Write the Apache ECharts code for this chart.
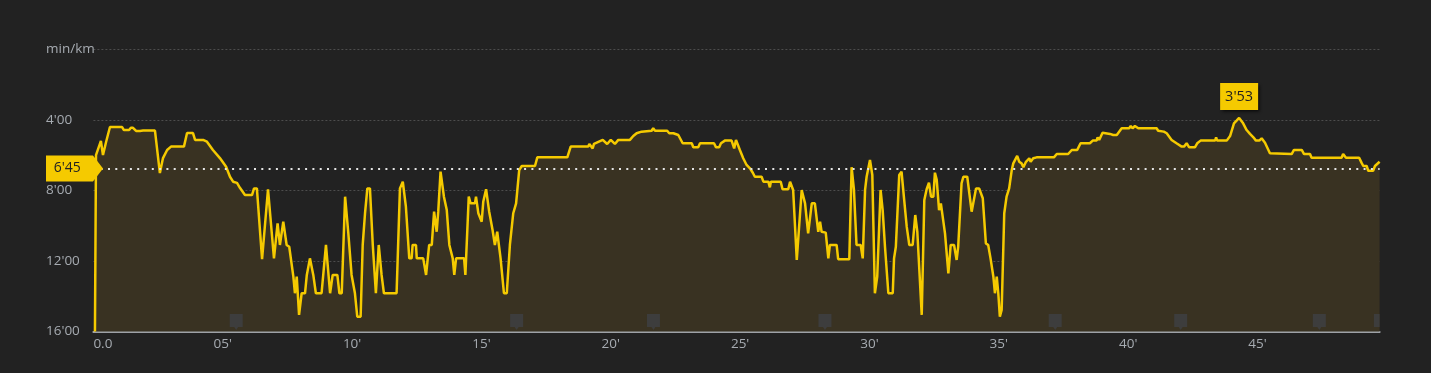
<!DOCTYPE html>
<html>
<head>
<meta charset="utf-8">
<script src="https://cdn.jsdelivr.net/npm/echarts@6/dist/echarts.min.js"></script>
<style>
html,body{margin:0;padding:0;background:#222222;}
#chart{width:1431px;height:373px;}
</style>
</head>
<body>
<div id="chart"></div>
<script>
// elapsed time (minutes)
const times = [0.06,0.10,0.22,0.29,0.37,0.49,0.64,1.11,1.18,1.38,1.45,1.53,1.65,1.80,1.92,2.38,2.57,2.69,2.85,3.00,
3.50,3.62,3.85,3.93,4.24,4.39,4.62,4.89,5.13,5.28,5.40,5.55,5.67,5.86,6.13,6.21,6.32,6.52,6.75,6.98,
7.12,7.21,7.34,7.47,7.57,7.73,7.79,7.86,7.95,8.05,8.18,8.25,8.37,8.50,8.60,8.82,8.99,9.15,9.25,9.43,
9.51,9.60,9.73,9.85,9.98,10.11,10.20,10.33,10.41,10.50,10.59,10.69,10.80,10.92,11.03,11.14,11.23,11.72,11.85,11.96,
12.08,12.21,12.30,12.34,12.47,12.50,12.75,12.86,12.98,13.08,13.17,13.27,13.33,13.42,13.55,13.66,13.76,13.89,13.95,14.02,
14.33,14.38,14.51,14.58,14.75,14.79,14.88,15.01,15.07,15.18,15.30,15.43,15.52,15.61,15.74,15.87,15.98,16.10,16.23,16.34,
16.46,16.56,17.07,17.16,18.32,18.45,19.13,19.17,19.30,19.35,19.69,19.86,20.00,20.16,20.29,20.74,20.87,21.00,21.19,21.58,
21.64,21.71,22.18,22.26,22.42,22.48,22.61,22.78,23.13,23.19,23.38,23.45,23.99,24.07,24.19,24.26,24.41,24.67,24.77,24.84,
24.99,25.12,25.25,25.38,25.49,25.57,25.83,25.90,26.09,26.15,26.19,26.57,26.64,26.86,26.93,26.99,27.05,27.19,27.25,27.38,
27.51,27.57,27.63,27.70,27.77,27.89,28.02,28.09,28.15,28.31,28.41,28.47,28.73,28.79,29.22,29.31,29.40,29.50,29.66,29.74,
29.83,29.89,29.95,30.02,30.11,30.21,30.30,30.43,30.51,30.60,30.73,30.90,30.95,31.02,31.15,31.24,31.33,31.44,31.54,31.67,
31.77,31.85,32.02,32.12,32.21,32.30,32.38,32.47,32.53,32.60,32.69,32.76,32.92,33.05,33.14,33.27,33.37,33.43,33.56,33.63,
33.78,33.95,34.12,34.24,34.38,34.50,34.59,34.68,34.79,34.85,34.92,34.98,35.04,35.11,35.21,35.30,35.40,35.50,35.56,35.71,
35.79,35.88,35.95,36.05,36.18,36.23,36.33,36.46,37.13,37.24,37.68,37.82,38.03,38.16,38.52,38.63,38.78,38.82,38.88,39.01,
39.30,39.36,39.42,39.56,39.75,40.04,40.10,40.17,40.26,40.39,41.10,41.16,41.38,41.49,41.68,41.87,42.07,42.16,42.26,42.36,
42.58,42.67,42.80,43.36,43.40,43.44,43.81,43.94,44.09,44.19,44.29,44.43,44.58,44.71,44.84,44.94,45.07,45.16,45.29,45.48,
46.32,46.41,46.71,46.80,47.03,47.09,48.25,48.31,48.42,48.93,49.02,49.09,49.22,49.28,49.47,49.54,49.72];

// pace (min/km)
const paces = [16,5.99,5.48,5.19,5.99,5.25,4.40,4.40,4.57,4.57,4.44,4.44,4.62,4.62,4.60,4.60,7.01,6.16,5.70,5.51,
5.51,4.74,4.74,5.13,5.13,5.23,5.70,6.16,6.65,7.22,7.50,7.57,7.86,8.26,8.26,7.88,7.88,11.89,7.93,11.85,
9.86,11.09,9.77,11.09,11.19,12.89,13.83,12.89,15.06,13.83,13.83,12.79,11.85,12.79,13.83,13.83,11.09,13.83,12.79,12.79,
13.83,13.83,8.35,10.34,12.79,13.83,15.16,15.16,11.09,9.29,7.88,7.88,11.09,13.83,11.09,12.79,13.83,13.83,7.88,7.50,
8.92,11.85,11.85,11.09,11.09,11.85,11.85,12.79,11.09,11.09,9.20,10.34,9.20,6.93,8.35,9.11,11.09,11.85,12.79,11.85,
11.85,12.79,8.35,8.73,8.73,8.35,9.29,9.77,8.64,7.93,9.20,10.24,11.09,10.34,11.85,13.83,13.83,11.09,9.29,8.73,
6.84,6.61,6.61,6.12,6.12,5.51,5.51,5.36,5.61,5.36,5.13,5.36,5.13,5.36,5.13,5.13,4.91,4.75,4.66,4.61,
4.47,4.61,4.61,4.75,4.75,4.85,4.85,5.32,5.32,5.55,5.55,5.32,5.32,5.55,5.55,5.32,5.17,5.17,5.61,5.13,
5.70,6.17,6.55,6.74,6.99,7.22,7.22,7.50,7.50,7.82,7.50,7.50,7.93,7.93,7.50,7.50,7.97,11.94,11.94,7.97,
8.73,8.82,10.43,10.43,8.73,8.73,10.34,9.77,10.34,10.39,11.85,11.09,11.09,11.90,11.90,6.68,7.97,11.09,11.09,11.85,
7.97,7.22,7.12,6.27,7.12,13.83,12.89,7.97,9.11,11.19,13.83,13.83,11.85,11.19,7.12,6.93,8.35,10.05,11.09,11.09,
9.39,10.34,15.06,8.54,7.93,7.56,8.35,8.35,6.99,7.40,9.11,8.73,10.43,12.70,11.09,11.09,11.94,11.19,7.59,7.22,
7.22,9.20,7.88,7.88,8.44,11.00,11.09,11.85,12.89,13.83,12.89,13.83,15.16,14.78,9.29,8.35,7.88,6.84,6.46,6.04,
6.37,6.46,6.68,6.37,6.17,6.37,6.17,6.12,6.12,5.93,5.93,5.70,5.70,5.32,5.32,5.17,5.17,4.98,5.13,4.72,
4.79,4.72,4.85,4.85,4.47,4.47,4.34,4.47,4.34,4.47,4.47,4.61,4.66,4.75,5.13,5.32,5.51,5.51,5.32,5.55,
5.55,5.32,5.17,5.17,4.98,5.17,5.17,4.91,4.19,4.04,3.883,4.15,4.57,4.79,4.98,5.17,5.17,5.04,5.29,5.89,
5.93,5.70,5.70,5.93,5.93,6.14,6.14,5.93,6.14,6.14,6.42,6.61,6.61,6.88,6.88,6.61,6.37];

// lap markers (minutes)
const lapTimes = [5.52,16.36,21.65,28.28,37.18,42.03,47.39,49.75];

// average pace (min/km) = 6'45
const avgPace = 6.75;

// axis ticks
const paceTicks = [0,4,8,12,16];
const timeTicks = [0,5,10,15,20,25,30,35,40,45];
const paceMax = 16;
const timeMax = 49.72;

function fmtPace(v){
  const m = Math.floor(v);
  let s = Math.round((v - m) * 60);
  return m + "'" + (s < 10 ? '0' + s : s);
}

const chart = echarts.init(document.getElementById('chart'), null, {renderer:'canvas'});
const data = times.map((t,i)=>[t, paces[i]]);
const FONT = "'Open Sans', 'DejaVu Sans', sans-serif";
const LABEL_COLOR = '#a6abb1';
const YELLOW = '#f5ca00';

chart.setOption({
  backgroundColor: '#222222',
  animation: false,
  grid: {left: 93.4, right: 51.4, top: 49.5, bottom: 41.5},
  xAxis: {
    type: 'value', min: 0, max: timeMax, interval: 5, position: 'bottom',
    axisLine: {show: true, onZero: false, lineStyle: {color: '#9ea2a7', width: 2}},
    axisTick: {show: false},
    splitLine: {show: false},
    axisLabel: {
      color: LABEL_COLOR, fontFamily: FONT, fontSize: 13.5, margin: 6,
      showMaxLabel: false, alignMinLabel: 'left',
      formatter: function(v){
        if (timeTicks.indexOf(v) < 0) return '';
        if (v === 0) return '0.0';
        return (v < 10 ? '0' + v : v) + "'";
      }
    }
  },
  yAxis: {
    type: 'value', inverse: true, min: 0, max: paceMax, interval: 4,
    axisLine: {show: false},
    axisTick: {show: false},
    splitLine: {show: true, lineStyle: {color: '#4d4d4d', type: [2,2], width: 1}},
    axisLabel: {
      color: LABEL_COLOR, fontFamily: FONT, fontSize: 13.5, align: 'left', margin: 47.4,
      verticalAlign: 'middle', padding: [0,0,5,0],
      formatter: function(v){
        if (paceTicks.indexOf(v) < 0) return '';
        return v === 0 ? 'min/km' : v + "'00";
      }
    }
  },
  series: [
    {
      type: 'line',
      data: data,
      showSymbol: false,
      symbol: 'none',
      lineStyle: {color: YELLOW, width: 2.5},
      areaStyle: {color: '#393222', opacity: 1, origin: 'end'},
      z: 2,
      markLine: {
        silent: true,
        symbol: ['none','none'],
        label: {show: false},
        lineStyle: {color: '#e4e4e4', type: [2,5.3], width: 2},
        data: [{yAxis: avgPace}]
      },
      markPoint: {
        silent: true,
        data: [
          {
            type: 'min', valueDim: 'y',
            symbol: 'rect', symbolSize: [38,27], symbolOffset: [0,-21.5],
            itemStyle: {color: YELLOW, shadowBlur: 3, shadowColor: 'rgba(0,0,0,0.7)', shadowOffsetX: 2, shadowOffsetY: 2},
            label: {show: true, position: 'inside', color: '#1e1e1e', fontFamily: FONT, fontSize: 14.5,
              formatter: function(p){ return fmtPace(p.value); }}
          },
          {
            coord: [0, avgPace], value: avgPace,
            symbol: 'path://M0,0L47,0L57,13L47,26L0,26Z', symbolSize: [57,26], symbolOffset: [-18.9,0],
            symbolKeepAspect: false,
            itemStyle: {color: YELLOW},
            label: {show: true, position: 'inside', offset: [-7.3,0], color: '#222222', fontFamily: FONT, fontSize: 14,
              formatter: function(p){ return fmtPace(p.value); }}
          }
        ]
      }
    },
    {
      type: 'custom',
      data: lapTimes.map(t => [t, paceMax]),
      z: 3,
      silent: true,
      clip: true,
      renderItem: function(params, api){
        const pt = api.coord([api.value(0), api.value(1)]);
        const cs = params.coordSys;
        const rect = echarts.graphic.clipRectByRect(
          {x: pt[0] - 6.5, y: pt[1] - 17.5, width: 13, height: 13},
          {x: cs.x, y: cs.y, width: cs.width, height: cs.height});
        const children = [];
        if (rect) children.push({type: 'rect', shape: rect, style: {fill: '#3d3d3d'}});
        if (pt[0] <= cs.x + cs.width - 2) {
          children.push({type: 'polygon', shape: {points: [[pt[0]-2, pt[1]-4.5],[pt[0]+2, pt[1]-4.5],[pt[0], pt[1]-1.5]]}, style: {fill: '#3d3d3d'}});
        }
        return {type: 'group', children: children};
      }
    }
  ]
});
</script>
</body>
</html>
